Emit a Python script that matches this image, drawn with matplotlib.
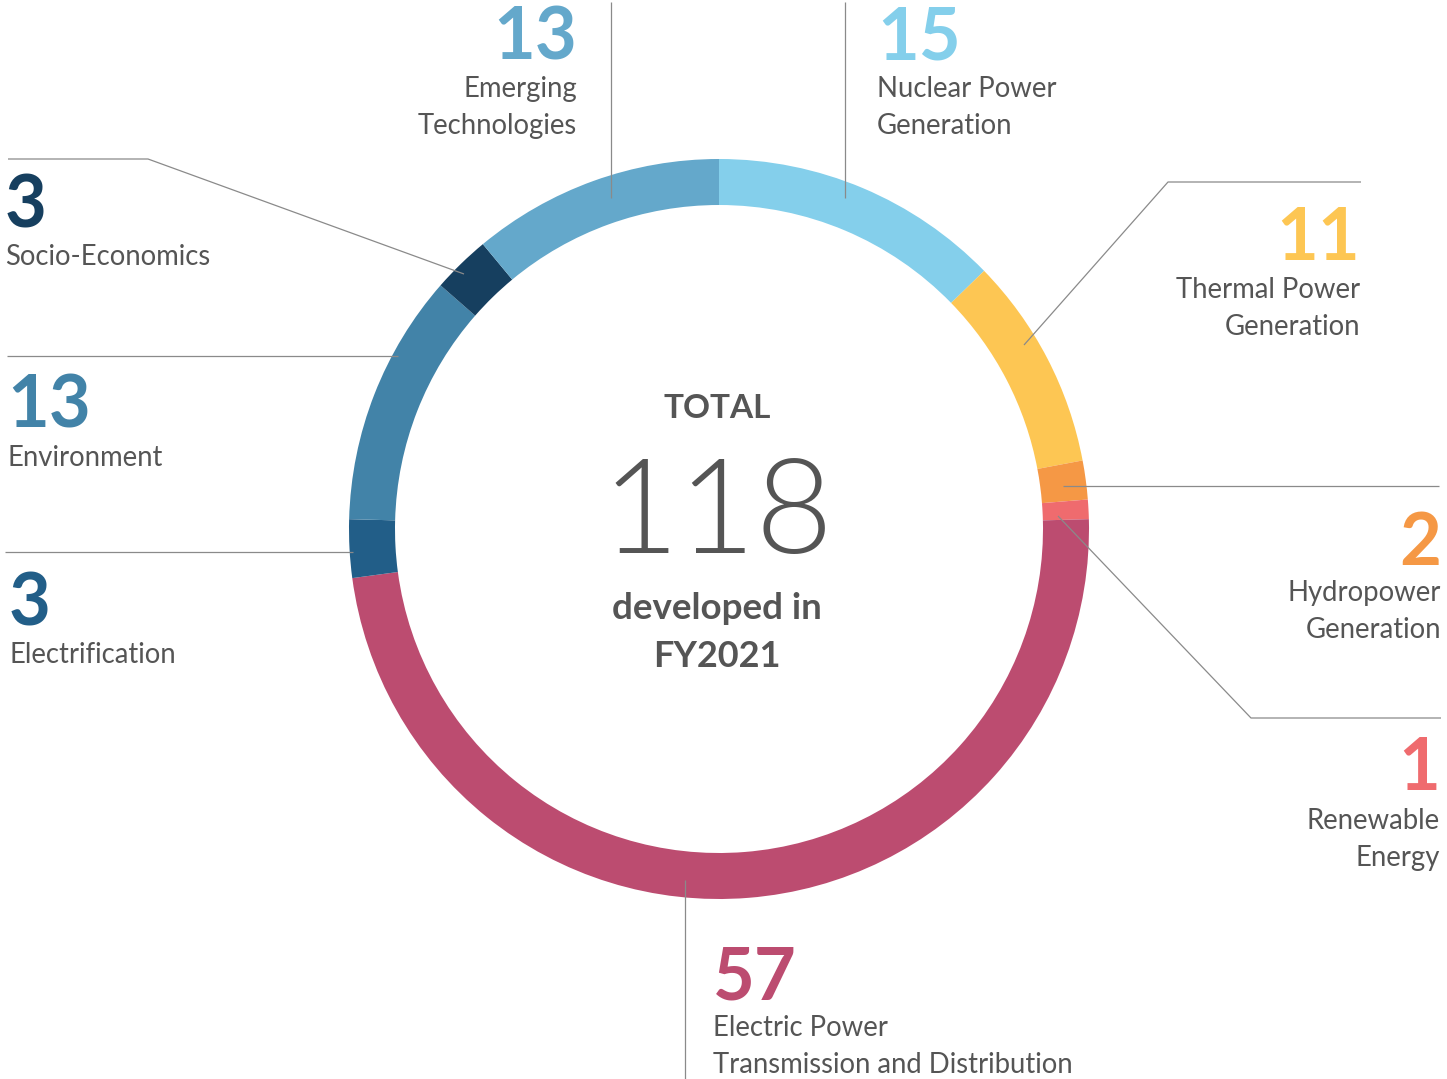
import matplotlib
matplotlib.use("Agg")
import matplotlib.pyplot as plt

plt.rcParams['font.family'] = ['Lato', 'DejaVu Sans']

# data, clockwise from the top
categories = ["Nuclear Power\nGeneration", "Thermal Power\nGeneration", "Hydropower\nGeneration",
              "Renewable\nEnergy", "Electric Power\nTransmission and Distribution",
              "Electrification", "Environment", "Socio-Economics", "Emerging\nTechnologies"]
counts = [15, 11, 2, 1, 57, 3, 13, 3, 13]
colors = ["#84cfeb", "#fdc653", "#f59845", "#ef6b6e", "#bc4c70",
          "#225e88", "#4283a8", "#163f5f", "#64a8cb"]
total_label = "118"

GREY = "#555555"
LINE = "#8a8a8a"

fig = plt.figure(figsize=(14.47, 10.79), dpi=100)
ax = fig.add_axes([0, 0, 1, 1])

# pixel coords, y inverted -> clockwise on screen is counterclock in data
cx, cy, r = 719, 529, 370
ax.pie(counts, colors=colors, startangle=-90, counterclock=True,
       center=(cx, cy), radius=r, wedgeprops=dict(width=46, linewidth=0))
ax.set_xlim(0, 1447)
ax.set_ylim(1079, 0)
ax.set_aspect('equal')
ax.axis('off')

# leader lines
leaders = [
    [(845, 2), (845, 198)],
    [(1361, 182), (1168, 182), (1024, 345)],
    [(1439, 486), (1063, 486)],
    [(1441, 718), (1251, 718), (1058, 516)],
    [(685, 1079), (685, 880)],
    [(5, 552), (353, 552)],
    [(7, 356), (398, 356)],
    [(8, 159), (148, 159), (464, 274)],
    [(611, 2), (611, 198)],
]
for pts in leaders:
    xs = [p[0] for p in pts]
    ys = [p[1] for p in pts]
    ax.plot(xs, ys, color=LINE, lw=0.9, solid_capstyle='butt')

# label anchors: x, number baseline, first text baseline, alignment
anchors = [
    (877, 60, 97, 'left'),
    (1360, 260, 298, 'right'),
    (1441, 565, 601, 'right'),
    (1440, 790, 829, 'right'),
    (713, 1000, 1036, 'left'),
    (9, 625, 663, 'left'),
    (7, 428, 466, 'left'),
    (5, 228, 265, 'left'),
    (577, 60, 97, 'right'),
]
for cat, n, col, (x, yn, yt, ha) in zip(categories, counts, colors, anchors):
    ax.text(x, yn, str(n), color=col, fontsize=52, fontweight='bold',
            ha=ha, va='baseline')
    for i, line in enumerate(cat.split("\n")):
        ax.text(x, yt + i * 37, line, color=GREY, fontsize=19.8,
                ha=ha, va='baseline')

# centre text
ax.text(cx - 2, 418, "TOTAL", color=GREY, fontsize=24, fontweight='bold',
        ha='center', va='baseline')
ax.text(cx - 2, 553, total_label, color=GREY, fontsize=96, fontweight=300,
        ha='center', va='baseline')
ax.text(cx - 2, 619, "developed in", color=GREY, fontsize=26.5, fontweight='bold',
        ha='center', va='baseline')
ax.text(cx - 2, 667, "FY2021", color=GREY, fontsize=26, fontweight='bold',
        ha='center', va='baseline')

fig.savefig("out.png", dpi=100, facecolor='white')
